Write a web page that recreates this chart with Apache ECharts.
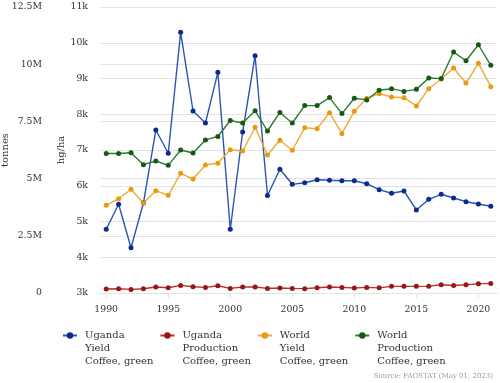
<!DOCTYPE html>
<html><head><meta charset="utf-8">
<script src="https://cdn.jsdelivr.net/npm/echarts@6/dist/echarts.min.js"></script>
<style>html,body{margin:0;padding:0;background:#fff}#c{width:500px;height:383px}</style>
</head><body><div id="c"></div>
<script>
const years = ['1990','1991','1992','1993','1994','1995','1996','1997','1998','1999','2000','2001','2002','2003','2004','2005','2006','2007','2008','2009','2010','2011','2012','2013','2014','2015','2016','2017','2018','2019','2020','2021'];
// hg/ha
const ugandaYield = [4782,5481,4267,5517,7559,6908,10292,8091,7755,9173,4782,7503,9638,5727,6460,6040,6085,6169,6152,6141,6141,6057,5890,5789,5853,5322,5621,5761,5657,5554,5490,5425];
// tonnes
const ugandaProduction = [175000,188000,157000,188000,262000,231000,332000,275000,245000,319000,200000,260000,260000,200000,220000,200000,190000,230000,260000,245000,220000,245000,225000,290000,290000,290000,300000,360000,330000,360000,400000,420000];
// hg/ha
const worldYield = [5453,5638,5901,5509,5862,5733,6348,6189,6580,6628,7008,6972,7635,6860,7271,6992,7624,7596,8043,7456,8083,8446,8575,8483,8463,8231,8715,8986,9294,8874,9425,8771];
// tonnes
const worldProduction = [6100000,6100000,6130000,5610000,5770000,5580000,6250000,6120000,6690000,6840000,7540000,7430000,7970000,7080000,7890000,7430000,8190000,8190000,8540000,7840000,8510000,8440000,8860000,8930000,8810000,8900000,9400000,9370000,10530000,10150000,10850000,9950000];
const seriesNames = ['Uganda\nYield\nCoffee, green','Uganda\nProduction\nCoffee, green','World\nYield\nCoffee, green','World\nProduction\nCoffee, green'];
const hgTicks = {min:3000, max:11000, step:1000};
const tTicks = {min:0, max:12500000, step:2500000};

const FONT = 'DejaVu Serif';
const labelColor = '#333';
const gridColor = '#e3e3e3';
const TICK_FS = 9.3;
const chart = echarts.init(document.getElementById('c'), null, {renderer:'canvas'});
function mk(name, data, axis, lineColor, dotColor){
  return {name, type:'line', data, yAxisIndex:axis, symbol:'circle', symbolSize:5,
    lineStyle:{width:1.4,color:lineColor}, itemStyle:{color:dotColor}, color:dotColor,
    emphasis:{disabled:true}, animation:false};
}
chart.setOption({
  animation:false,
  textStyle:{fontFamily:FONT},
  grid:{left:100,right:3,top:7,bottom:90,containLabel:false,outerBoundsMode:'none'},
  xAxis:{type:'category',data:years,boundaryGap:true,
    axisLine:{show:true,lineStyle:{color:gridColor}},
    axisTick:{show:true,alignWithLabel:true,length:5,interval:(i)=>i%5===0,lineStyle:{color:gridColor}},
    axisLabel:{interval:(i)=>i%5===0,margin:12,fontFamily:FONT,fontSize:TICK_FS,color:labelColor},
    splitLine:{show:false}},
  yAxis:[
    {type:'value',position:'left',offset:0,min:hgTicks.min,max:hgTicks.max,interval:hgTicks.step,
     name:'hg/ha',nameLocation:'middle',nameGap:34,nameMoveOverlap:false,nameTextStyle:{fontFamily:FONT,fontSize:10,color:labelColor},
     axisLine:{show:false},axisTick:{show:false},
     axisLabel:{margin:12,fontFamily:FONT,fontSize:TICK_FS,color:labelColor,formatter:v=>(v/1000)+'k'},
     splitLine:{show:true,lineStyle:{color:gridColor,width:1}}},
    {type:'value',position:'left',offset:50,min:tTicks.min,max:tTicks.max,interval:tTicks.step,
     name:'tonnes',nameLocation:'middle',nameGap:40,nameMoveOverlap:false,nameTextStyle:{fontFamily:FONT,fontSize:10,color:labelColor},
     axisLine:{show:false},axisTick:{show:false},
     axisLabel:{margin:8,fontFamily:FONT,fontSize:TICK_FS,color:labelColor,formatter:v=>v===0?'0':(v/1e6)+'M'},
     splitLine:{show:true,lineStyle:{color:gridColor,width:1}}}
  ],
  legend:{top:303,left:62,padding:0,itemGap:6,itemWidth:14,itemHeight:8,
    formatter:name=>'\n\n'+name,
    textStyle:{fontFamily:FONT,fontSize:10,color:labelColor,lineHeight:13,padding:[0,0,0,3]},
    data:seriesNames},
  graphic:[{type:'text',right:7,bottom:3,style:{text:'Source: FAOSTAT (May 01, 2023)',fontFamily:FONT,fontSize:7,fill:'#999'}}],
  series:[
    mk(seriesNames[0],ugandaYield,0,'#2a55b5','#0d2a8f'),
    mk(seriesNames[1],ugandaProduction,1,'#b83030','#9c1515'),
    mk(seriesNames[2],worldYield,0,'#eeaa35','#e89a10'),
    mk(seriesNames[3],worldProduction,1,'#2e7a2e','#145a14')
  ]
});
</script></body></html>
